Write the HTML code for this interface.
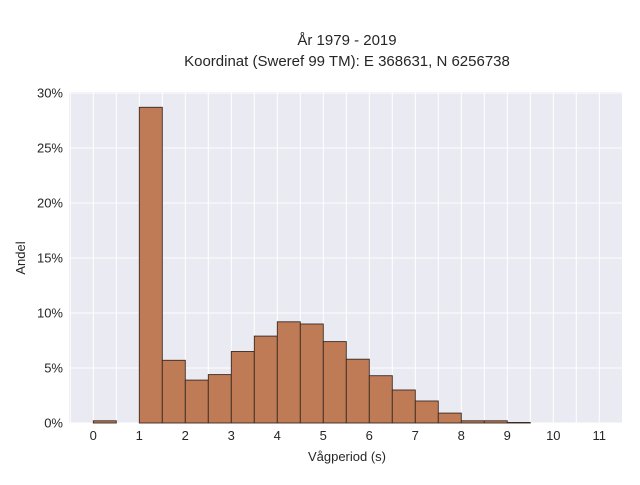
<!DOCTYPE html>
<html><head><meta charset="utf-8"><style>
body{margin:0;background:#fff;font-family:"Liberation Sans",sans-serif}
svg text{font-family:"Liberation Sans",sans-serif;fill:#262626}
</style></head><body>
<svg width="640" height="480" xmlns="http://www.w3.org/2000/svg">
<text x="347" y="45" font-size="15" text-anchor="middle">År 1979 - 2019</text>
<text x="347" y="66" font-size="15" text-anchor="middle">Koordinat (Sweref 99 TM): E 368631, N 6256738</text>
<rect x="69" y="92" width="553" height="331" fill="#eaeaf2"/>
<g id="grid"></g><g id="bars"></g><g id="ticks"></g>
<text x="347" y="461" font-size="13" text-anchor="middle">Vågperiod (s)</text>
<text x="25" y="258" font-size="13" text-anchor="middle" transform="rotate(-90 25 258)">Andel</text>
</svg>
<script>
const binStarts=[0,1,1.5,2,2.5,3,3.5,4,4.5,5,5.5,6,6.5,7,7.5,8,8.5,9];
const shares=[0.2,28.7,5.7,3.9,4.4,6.5,7.9,9.2,9.0,7.4,5.8,4.3,3.0,2.0,0.9,0.2,0.2,0.05];
const xTicks=[0,1,2,3,4,5,6,7,8,9,10,11];
const yTicks=[0,5,10,15,20,25,30];
const binWidth=0.5;
const NS="http://www.w3.org/2000/svg";
const X=v=>93.3+v*46, Y=v=>423-v*11;
function mk(t,a,p){const e=document.createElementNS(NS,t);for(const k in a)e.setAttribute(k,a[k]);p.appendChild(e);return e;}
const g=document.getElementById('grid'),b=document.getElementById('bars'),tk=document.getElementById('ticks');
for(let v=-0.5;v<=11.5;v+=0.5){const x=X(v);if(x<69||x>622)continue;
 const l=mk('line',{x1:x,x2:x,y1:92,y2:423,stroke:'#fff','stroke-width':1},g);
 
 }
yTicks.forEach(v=>{const l=mk('line',{x1:69,x2:622,y1:Y(v),y2:Y(v),stroke:'#fff','stroke-width':1},g);
 
 
 const t=mk('text',{x:63,y:Y(v)+4.5,'font-size':13,'text-anchor':'end'},tk);t.textContent=v+'%';
 
 });
xTicks.forEach(v=>{const t=mk('text',{x:X(v),y:440,'font-size':13,'text-anchor':'middle'},tk);t.textContent=v;
 
 });
binStarts.forEach((s,i)=>{const r=mk('rect',{x:X(s),y:Y(shares[i]),width:binWidth*46,height:Y(0)-Y(shares[i]),fill:'#bf7b56',stroke:'#3b2a20','stroke-width':0.9},b);
 
 });
</script>
</body></html>
